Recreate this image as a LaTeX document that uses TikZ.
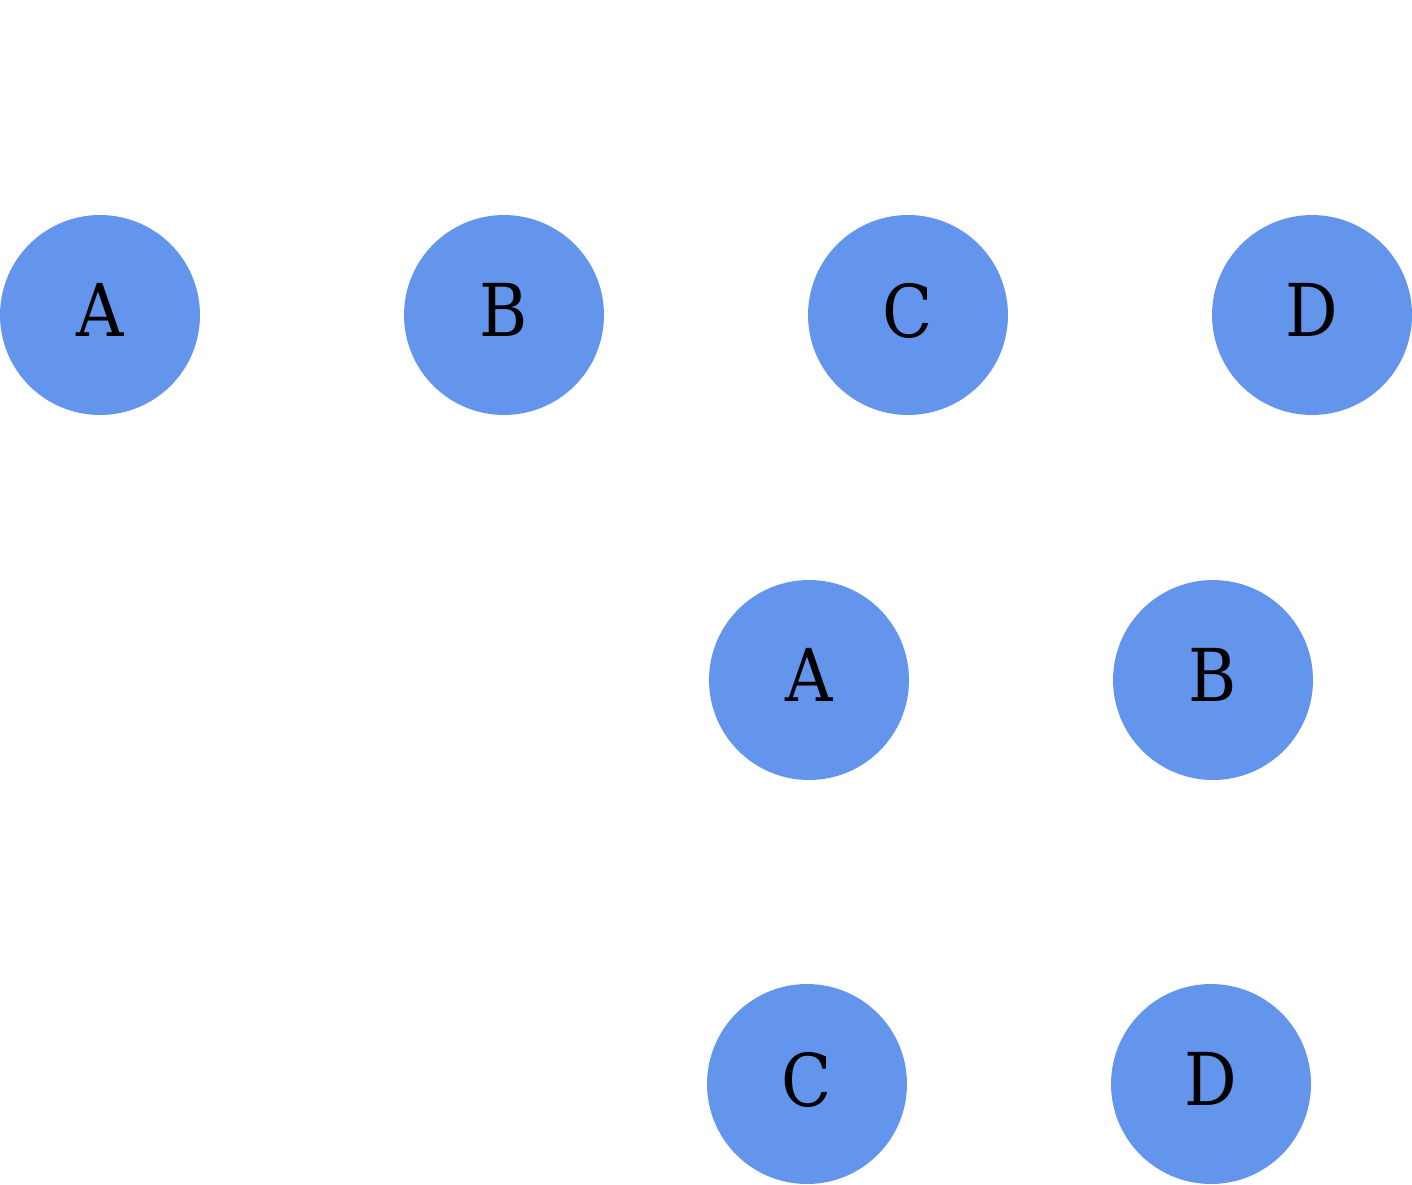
\documentclass[tikz,border=0pt]{standalone}
\usepackage{fontspec}
\setmainfont{DejaVu Serif Condensed}
\definecolor{vertexblue}{HTML}{6495ED}
\tikzset{vertex/.style={circle,fill=vertexblue,minimum size=4cm,inner sep=0pt,
  text depth=0.2cm,font=\fontsize{41.5}{50}\selectfont}}

\begin{document}
\begin{tikzpicture}[x=0.02cm,y=-0.02cm]
          \useasboundingbox (0,0) rectangle (1412,1184);
          \begin{scope}
            \node[vertex](a1) at (100,315) {A};
            \node[vertex](b1) at (504,315) {B};
            \node[vertex](c1) at (908,315) {C};
            \node[vertex](d1) at (1312,315) {D};
          \end{scope}

          \begin{scope}
            \node[vertex](a2) at (809,680) {A};
            \node[vertex](b2) at (1213,680) {B};
            \node[vertex](c2) at (807,1084) {C};
            \node[vertex](d2) at (1211,1084) {D};
          \end{scope}
        \end{tikzpicture}
\end{document}
